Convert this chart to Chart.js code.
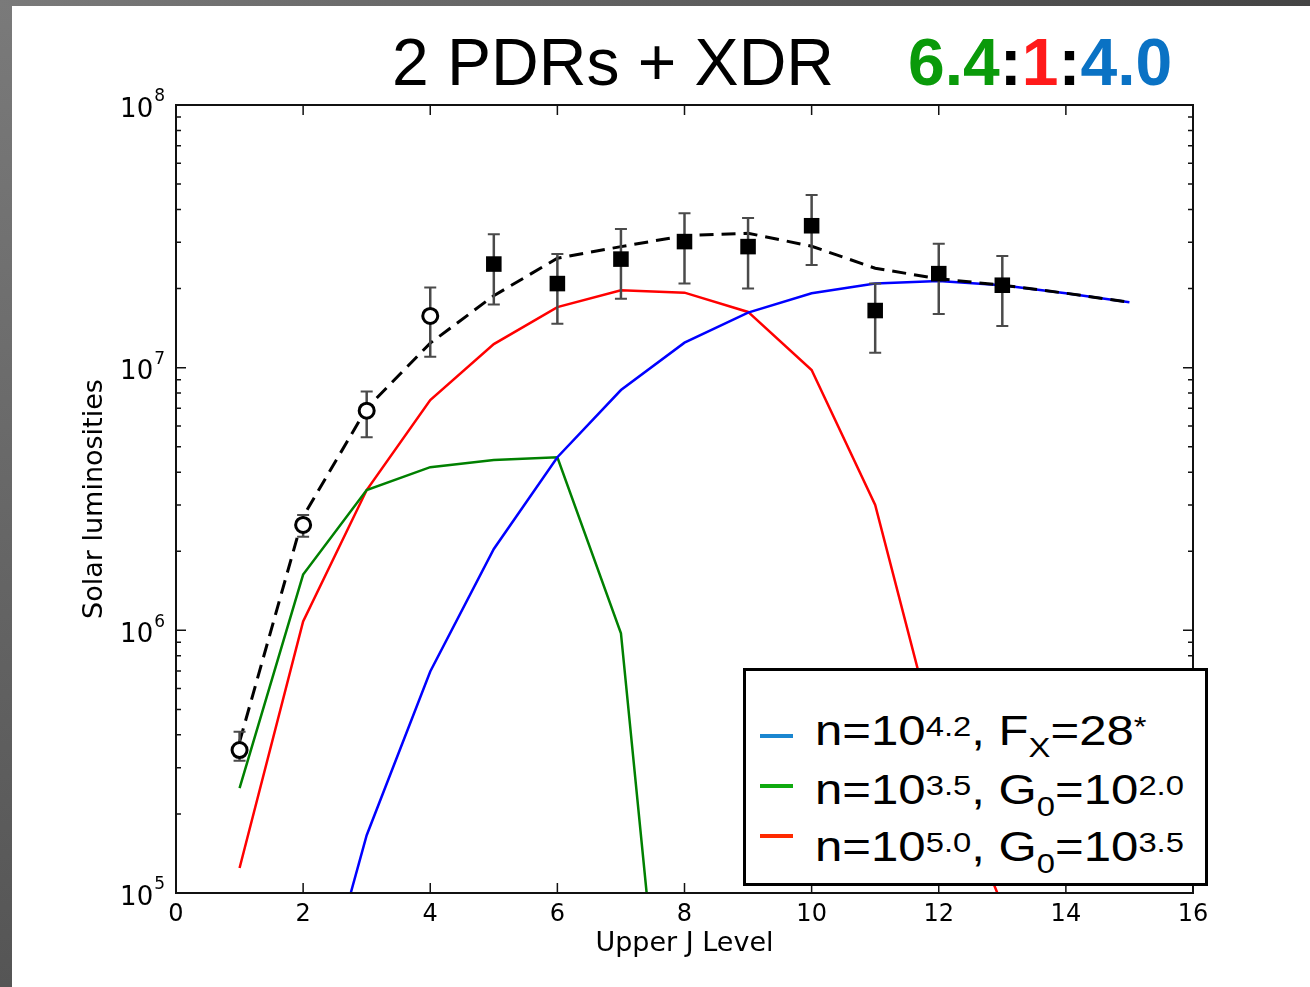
<!DOCTYPE html>
<html>
<head>
<meta charset="utf-8">
<script src="https://cdn.jsdelivr.net/npm/chart.js@4.4.1/dist/chart.umd.min.js"></script>
<style>
  body {
    margin: 0;
    width: 1310px;
    height: 987px;
    overflow: hidden;
    position: relative;
    background: #fff;
    font-family: "Liberation Sans", Arial, sans-serif;
  }
  #chart { position: absolute; left: 0; top: 0; }
  .band-left {
    position: absolute; left: 0; top: 0; width: 12px; height: 987px;
    background: linear-gradient(#7a7a7a, #555);
  }
  .band-top {
    position: absolute; left: 0; top: 0; width: 1310px; height: 6px;
    background: linear-gradient(90deg, #7a7a7a, #444);
  }
  .title {
    position: absolute; top: 29px;
    font-size: 66px; line-height: 66px; white-space: nowrap; color: #000;
  }
  .ratio { font-weight: bold; }
  #legend {
    position: absolute; left: 743px; top: 668px; width: 465px; height: 218px;
    box-sizing: border-box; border: 3px solid #000; background: #fff;
  }
  .swatch { position: absolute; left: 14px; width: 33px; height: 4px; }
  .entry {
    position: absolute; left: 69px;
    font-size: 42px; line-height: 42px; white-space: nowrap; color: #000;
    transform: scaleX(1.17); transform-origin: left center;
  }
  .sup { font-size: 28px; position: relative; top: -9px; }
  .sub { font-size: 28px; position: relative; top: 12px; }
</style>
</head>
<body>
<canvas id="chart" width="1310" height="987"></canvas>

<div class="title" style="left:392px;">2 PDRs + XDR</div>
<div class="title ratio" style="left:908px;"><span style="color:#0a9a0a">6.4</span>:<span style="color:#ff1a1a">1</span>:<span style="color:#0a72c4">4.0</span></div>

<div id="legend">
  <div class="swatch" style="top:63px; background:#1a86d0;"></div>
  <div class="entry" style="top:39px;">n=10<span class="sup">4.2</span>, F<span class="sub">X</span>=28<span class="sup">*</span></div>
  <div class="swatch" style="top:113px; background:#10aa10;"></div>
  <div class="entry" style="top:98px;">n=10<span class="sup">3.5</span>, G<span class="sub">0</span>=10<span class="sup">2.0</span></div>
  <div class="swatch" style="top:163px; background:#ff2a00;"></div>
  <div class="entry" style="top:155px;">n=10<span class="sup">5.0</span>, G<span class="sub">0</span>=10<span class="sup">3.5</span></div>
</div>

<div class="band-left"></div>
<div class="band-top"></div>

<script>
// upper J levels for the model curves
const jLevels = [1, 2, 3, 4, 5, 6, 7, 8, 9, 10, 11, 12, 13, 14, 15];

// model luminosities in Lsun (null = not drawn)
const xdrLum = [null, 2.2e4, 1.66e5, 6.97e5, 2.04e6, 4.56e6, 8.22e6, 1.245e7, 1.62e7, 1.92e7, 2.09e7, 2.14e7, 2.06e7, 1.92e7, 1.775e7];
const pdrLowLum = [2.51e5, 1.63e6, 3.42e6, 4.18e6, 4.45e6, 4.56e6, 9.75e5, 3.5e3, null, null, null, null, null, null, null];
const pdrHighLum = [1.245e5, 1.08e6, 3.42e6, 7.53e6, 1.23e7, 1.70e7, 1.97e7, 1.93e7, 1.63e7, 9.8e6, 3.0e6, 3.5e5, 9.0e4, null, null];
const totalLum = [3.76e5, 2.71e6, 7.0e6, 1.24e7, 1.88e7, 2.61e7, 2.89e7, 3.18e7, 3.25e7, 2.9e7, 2.39e7, 2.18e7, 2.06e7, 1.92e7, 1.775e7];

// observed lines, first four are open circles
const obsJ = [1, 2, 3, 4, 5, 6, 7, 8, 9, 10, 11, 12, 13];
const obsLum = [3.5e5, 2.52e6, 6.86e6, 1.574e7, 2.48e7, 2.09e7, 2.59e7, 3.02e7, 2.89e7, 3.47e7, 1.65e7, 2.28e7, 2.06e7];
const obsLow = [3.19e5, 2.27e6, 5.43e6, 1.10e7, 1.74e7, 1.47e7, 1.83e7, 2.09e7, 2.0e7, 2.46e7, 1.14e7, 1.60e7, 1.44e7];
const obsHigh = [4.11e5, 2.75e6, 8.11e6, 2.02e7, 3.22e7, 2.71e7, 3.37e7, 3.87e7, 3.71e7, 4.54e7, 2.09e7, 2.96e7, 2.66e7];
const openCount = 4;

// axis ticks
const xTicks = [0, 2, 4, 6, 8, 10, 12, 14, 16];
const yDecades = [1e5, 1e6, 1e7, 1e8];

function curve(values) {
  return jLevels
    .map((j, i) => ({ x: j, y: values[i] }))
    .filter(p => p.y !== null);
}

function obsPoints(from, to) {
  return obsJ.slice(from, to).map((j, i) => ({ x: j, y: obsLum[from + i] }));
}

// error bars, drawn just before the marker dataset
const errorBars = {
  id: "errorBars",
  beforeDatasetDraw(chart, args) {
    const ds = chart.data.datasets[args.index];
    if (!ds.errLow) return;
    const { ctx, scales: { x, y } } = chart;
    ctx.save();
    ctx.strokeStyle = "#4a4a4a";
    ds.data.forEach((p, i) => {
      const px = x.getPixelForValue(p.x);
      const top = y.getPixelForValue(ds.errHigh[i]);
      const bot = y.getPixelForValue(ds.errLow[i]);
      ctx.lineWidth = 2.5;
      ctx.beginPath();
      ctx.moveTo(px, top);
      ctx.lineTo(px, bot);
      ctx.stroke();
      ctx.lineWidth = 2;
      ctx.beginPath();
      ctx.moveTo(px - 6, top);
      ctx.lineTo(px + 6, top);
      ctx.moveTo(px - 6, bot);
      ctx.lineTo(px + 6, bot);
      ctx.stroke();
    });
    ctx.restore();
  }
};

// matplotlib style box with inward ticks and 10^n labels
const frame = {
  id: "frame",
  afterDatasetsDraw(chart) {
    const { ctx, chartArea: a, scales: { x, y } } = chart;
    ctx.save();
    ctx.strokeStyle = "#111";
    ctx.lineWidth = 1.5;
    ctx.beginPath();
    xTicks.forEach(v => {
      const px = x.getPixelForValue(v);
      ctx.moveTo(px, a.bottom);
      ctx.lineTo(px, a.bottom - 10);
      ctx.moveTo(px, a.top);
      ctx.lineTo(px, a.top + 10);
    });
    yDecades.forEach((d, k) => {
      const last = k === yDecades.length - 1;
      for (let m = 1; m <= (last ? 1 : 9); m++) {
        const py = y.getPixelForValue(d * m);
        const len = m === 1 ? 10 : 5;
        ctx.moveTo(a.left, py);
        ctx.lineTo(a.left + len, py);
        ctx.moveTo(a.right, py);
        ctx.lineTo(a.right - len, py);
      }
    });
    ctx.stroke();
    ctx.lineWidth = 2;
    ctx.strokeRect(a.left, a.top, a.right - a.left, a.bottom - a.top);

    // y labels: "10" with a raised exponent
    ctx.fillStyle = "#000";
    ctx.textAlign = "right";
    ctx.textBaseline = "middle";
    yDecades.forEach(d => {
      const py = y.getPixelForValue(d);
      const exp = String(Math.round(Math.log10(d)));
      ctx.font = "17px 'DejaVu Sans'";
      const ew = ctx.measureText(exp).width;
      ctx.fillText(exp, a.left - 11, py - 8);
      ctx.font = "26px 'DejaVu Sans'";
      ctx.fillText("10", a.left - 12 - ew, py + 5);
    });
    ctx.restore();
  }
};

const tickFont = { family: "DejaVu Sans", size: 24 };
const labelFont = { family: "DejaVu Sans", size: 27 };

new Chart(document.getElementById("chart"), {
  type: "line",
  data: {
    datasets: [
      {
        data: obsPoints(0, openCount),
        errLow: obsLow.slice(0, openCount),
        errHigh: obsHigh.slice(0, openCount),
        showLine: false,
        pointStyle: "circle",
        pointRadius: 7.5,
        pointBorderWidth: 3,
        pointBorderColor: "#000",
        pointBackgroundColor: "#fff",
        order: 0
      },
      {
        data: obsPoints(openCount),
        errLow: obsLow.slice(openCount),
        errHigh: obsHigh.slice(openCount),
        showLine: false,
        pointStyle: "rect",
        pointRadius: 11,
        pointBorderWidth: 0,
        pointBackgroundColor: "#000",
        order: 0
      },
      {
        data: curve(totalLum),
        borderColor: "#000",
        borderWidth: 3,
        borderDash: [14, 8],
        pointRadius: 0,
        order: 1
      },
      {
        data: curve(xdrLum),
        borderColor: "#0000ff",
        borderWidth: 2.5,
        pointRadius: 0,
        order: 2
      },
      {
        data: curve(pdrLowLum),
        borderColor: "#008000",
        borderWidth: 2.5,
        pointRadius: 0,
        order: 2
      },
      {
        data: curve(pdrHighLum),
        borderColor: "#ff0000",
        borderWidth: 2.5,
        pointRadius: 0,
        order: 2
      }
    ]
  },
  options: {
    responsive: false,
    animation: false,
    devicePixelRatio: 1,
    layout: { padding: { top: 105, right: 117, left: 0, bottom: 0 } },
    plugins: {
      legend: { display: false },
      tooltip: { enabled: false }
    },
    scales: {
      x: {
        type: "linear",
        min: 0,
        max: 16,
        grid: { display: false, drawTicks: false },
        border: { display: false },
        ticks: { stepSize: 2, color: "#000", font: tickFont, padding: 7, maxRotation: 0 },
        title: {
          display: true,
          text: "Upper J Level",
          color: "#000",
          font: labelFont,
          padding: { top: 0, bottom: 27 }
        },
        afterFit: s => { s.height = 94; }
      },
      y: {
        type: "logarithmic",
        min: 1e5,
        max: 1e8,
        grid: { display: false, drawTicks: false },
        border: { display: false },
        afterBuildTicks: s => { s.ticks = yDecades.map(v => ({ value: v })); },
        ticks: { display: false },
        title: {
          display: true,
          text: "Solar luminosities",
          color: "#000",
          font: labelFont,
          padding: { top: 79, bottom: 0 }
        },
        afterFit: s => { s.width = 176; }
      }
    }
  },
  plugins: [errorBars, frame]
});
</script>
</body>
</html>
